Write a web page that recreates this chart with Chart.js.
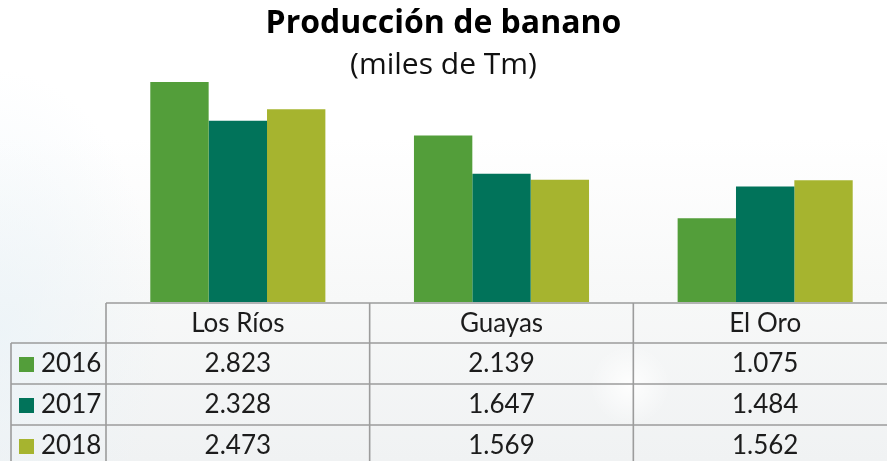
<!DOCTYPE html>
<html lang="es">

<head>
    <meta charset="UTF-8">
    <title>Producción de banano</title>
    <script src="https://cdn.jsdelivr.net/npm/chart.js"></script>
    <style>
        html, body { margin: 0; padding: 0; }
        body {
            width: 887px;
            height: 461px;
            overflow: hidden;
            position: relative;
            background:
                radial-gradient(circle at 630px 385px, rgba(255,255,255,0.9) 0, rgba(255,255,255,0) 40px),
                radial-gradient(ellipse 160px 260px at 0px 330px, rgba(234,243,248,0.7) 0, rgba(255,255,255,0) 100%),
                linear-gradient(to bottom, #ffffff 0%, #ffffff 30%, #f7f8f8 65%, #f0f2f3 100%);
        }
        .chartbox {
            position: absolute;
            left: -10px;
            top: 0;
            width: 907px;
            height: 461px;
        }
    </style>
</head>

<body>
    <div class="chartbox">
        <canvas id="bananaChart"></canvas>
    </div>

    <script>
        // data (miles de Tm)
        const provinces = ['Los Ríos', 'Guayas', 'El Oro'];
        const years = ['2016', '2017', '2018'];
        const prod2016 = [2.823, 2.139, 1.075];
        const prod2017 = [2.328, 1.647, 1.484];
        const prod2018 = [2.473, 1.569, 1.562];
        const colors = ['#539e3a', '#01735a', '#a6b42f'];

        const series = [prod2016, prod2017, prod2018];
        const fmt = v => v.toFixed(3);

        // draws the data table under the bars
        const dataTable = {
            id: 'dataTable',
            afterDraw(chart) {
                const ctx = chart.ctx;
                const area = chart.chartArea;
                const xs = chart.scales.x;
                const colW = (area.right - area.left) / provinces.length;
                const left = 21;
                const headTop = area.bottom + 1;
                const rowH = 41;
                const rowTop = headTop + 40;
                const bottom = chart.height + 5;

                ctx.save();
                ctx.strokeStyle = '#9c9c9c';
                ctx.lineWidth = 1.6;
                ctx.beginPath();
                ctx.moveTo(area.left, headTop);
                ctx.lineTo(area.right, headTop);
                for (let r = 0; r < years.length; r++) {
                    ctx.moveTo(left, rowTop + r * rowH);
                    ctx.lineTo(area.right, rowTop + r * rowH);
                }
                ctx.moveTo(left, rowTop);
                ctx.lineTo(left, bottom);
                for (let c = 0; c < provinces.length; c++) {
                    const x = area.left + c * colW;
                    ctx.moveTo(x, headTop);
                    ctx.lineTo(x, bottom);
                }
                ctx.stroke();

                ctx.fillStyle = '#1c1c1c';
                ctx.textAlign = 'center';
                ctx.textBaseline = 'middle';
                ctx.font = '26px Lato';
                provinces.forEach((p, i) => {
                    ctx.fillText(p, xs.getPixelForValue(i), headTop + 21);
                });
                years.forEach((y, r) => {
                    const cy = rowTop + r * rowH + 21;
                    ctx.fillStyle = colors[r];
                    ctx.fillRect(29, cy - 7, 15, 15);
                    ctx.fillStyle = '#1c1c1c';
                    ctx.textAlign = 'left';
                    ctx.fillText(y, 51, cy);
                    ctx.textAlign = 'center';
                    series[r].forEach((v, i) => {
                        ctx.fillText(fmt(v), xs.getPixelForValue(i), cy);
                    });
                });
                ctx.restore();
            }
        };

        new Chart(document.getElementById('bananaChart'), {
            type: 'bar',
            data: {
                labels: provinces,
                datasets: years.map((y, i) => ({
                    label: y,
                    data: series[i],
                    backgroundColor: colors[i],
                    barPercentage: 1,
                    categoryPercentage: 0.664
                }))
            },
            options: {
                responsive: true,
                maintainAspectRatio: false,
                animation: false,
                layout: { padding: { top: 0, right: 0, bottom: 159, left: 0 } },
                plugins: {
                    legend: { display: false },
                    tooltip: { enabled: false },
                    title: {
                        display: true,
                        text: 'Producción de banano',
                        color: '#000',
                        font: { family: 'Open Sans', size: 32, weight: 'bold', lineHeight: 1 },
                        padding: { top: 8, bottom: 0 }
                    },
                    subtitle: {
                        display: true,
                        text: '(miles de Tm)',
                        color: '#111',
                        font: { family: 'Open Sans', size: 30, lineHeight: 1 },
                        padding: { top: 10, bottom: 0 }
                    }
                },
                scales: {
                    x: { display: false },
                    y: {
                        min: 0,
                        max: 2.85,
                        grid: { display: false },
                        border: { display: false },
                        ticks: { display: false },
                        afterFit(scale) { scale.width = 116; }
                    }
                }
            },
            plugins: [dataTable]
        });
    </script>
</body>

</html>
